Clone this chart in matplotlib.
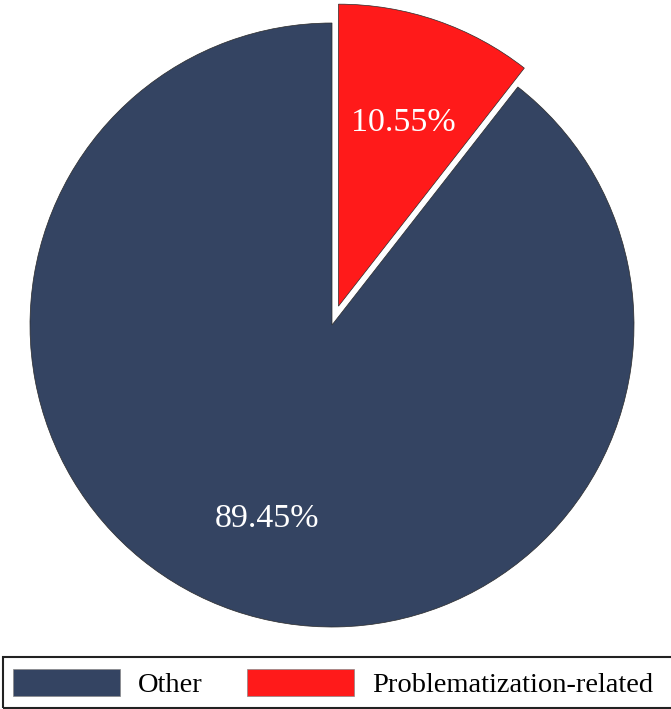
import matplotlib
matplotlib.use("Agg")
import matplotlib.pyplot as plt
import matplotlib.transforms as mtransforms
from matplotlib.patches import Rectangle

categories = ["Other", "Problematization-related"]
values = [89.45, 10.55]
colors = ["#344462", "#FF1A1A"]
explode = [0, 0.066]

plt.rcParams['font.family'] = ['Liberation Serif', 'DejaVu Serif']

W, H = 671, 709
fig = plt.figure(figsize=(W / 100, H / 100), dpi=100)
R = 302
cx, cy = 332, 325
s = 1.1
ax = fig.add_axes([(cx - R * s) / W, (H - cy - R * s) / H, 2 * R * s / W, 2 * R * s / H])
wedges, texts, autotexts = ax.pie(
    values, colors=colors, explode=explode, startangle=90, counterclock=True,
    autopct=lambda p: f"{p:.2f}%", pctdistance=0.66,
    wedgeprops=dict(edgecolor="#2a2a2a", linewidth=0.5),
    textprops=dict(color="white", fontsize=24.5))
shift = mtransforms.ScaledTranslation(0, -5 / 100, fig.dpi_scale_trans)
for t in autotexts:
    t.set_transform(t.get_transform() + shift)
ax.set_xlim(-s, s)
ax.set_ylim(-s, s)
ax.set_aspect('equal')
ax.axis('off')

leg = fig.legend(wedges, categories, loc='lower left', ncol=2,
                 bbox_to_anchor=(3 / W, 1 / H), fontsize=20.5, frameon=False,
                 handlelength=3.75, handleheight=1.1, handletextpad=0.63,
                 columnspacing=1.57, borderpad=0.35, borderaxespad=0)
for h in leg.legend_handles:
    h.set_edgecolor("#888888")
    h.set_linewidth(0.5)

fig.patches.append(Rectangle((3 / W, 1 / H), 700 / W, 51 / H, transform=fig.transFigure,
                             fill=False, edgecolor='#222222', linewidth=1.5, figure=fig))

fig.savefig("out.png", dpi=100)
